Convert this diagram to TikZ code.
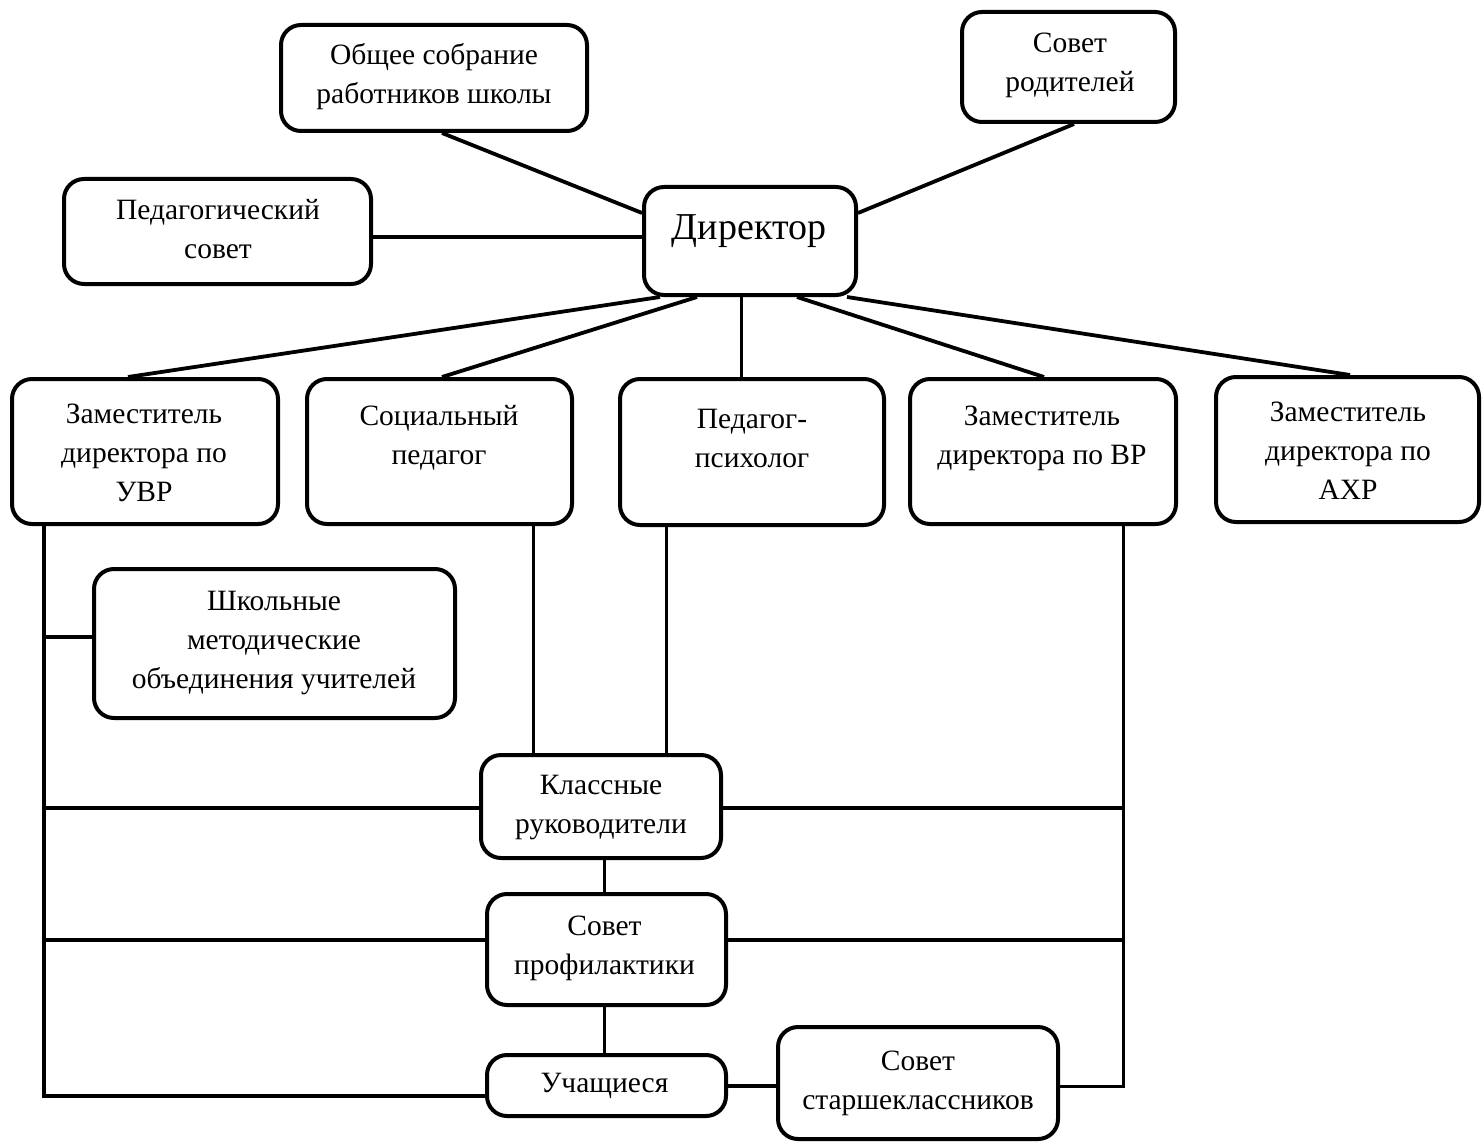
\documentclass[tikz,border=0pt]{standalone}
\usepackage{fontspec}
\setmainfont{Liberation Serif}
\usetikzlibrary{calc}
\begin{document}
\begin{tikzpicture}[x=1pt,y=-1pt,
  box/.style={draw=black, line width=4pt, rounded corners=20pt, inner sep=0pt},
  txt/.style={font=\fontsize{29.5}{39}\selectfont, align=center, inner sep=0pt},
  bigtxt/.style={font=\fontsize{38}{44}\selectfont, align=center, inner sep=0pt},
  conn/.style={draw=black, line width=3.8pt},
  thinconn/.style={draw=black, line width=3pt}]
\useasboundingbox[fill=white] (0,0) rectangle (1482,1142);

% boxes
\node[box, minimum width=306pt, minimum height=106pt] (obs) at (434,78) {};
\node[box, minimum width=213pt, minimum height=110pt] (rod) at (1068.5,67) {};
\node[box, minimum width=307pt, minimum height=105pt] (ped) at (217.5,231.5) {};
\node[box, minimum width=212pt, minimum height=108pt] (dir) at (750,241) {};
\node[box, minimum width=266pt, minimum height=145pt] (uvr) at (145,451.5) {};
\node[box, minimum width=265pt, minimum height=145pt] (soc) at (439.5,451.5) {};
\node[box, minimum width=264pt, minimum height=146pt] (psy) at (752,452) {};
\node[box, minimum width=266pt, minimum height=145pt] (vr) at (1043,451.5) {};
\node[box, minimum width=263pt, minimum height=145pt] (ahr) at (1347.5,449.5) {};
\node[box, minimum width=361pt, minimum height=149pt] (shk) at (274.5,643.5) {};
\node[box, minimum width=240pt, minimum height=103pt] (kls) at (601,806.5) {};
\node[box, minimum width=239pt, minimum height=111pt] (prof) at (606.5,949.5) {};
\node[box, minimum width=239pt, minimum height=61pt] (uch) at (606.5,1085.5) {};
\node[box, minimum width=280pt, minimum height=112pt] (star) at (918,1083) {};

% texts
\node[txt] (tobs) at (434,77) {Общее собрание\\работников школы};
\node[txt] (trod) at (1070,65.5) {Совет\\родителей};
\node[txt] (tped) at (218,229.5) {Педагогический\\совет};
\node[bigtxt] (tdir) at (749,231.5) {Директор};
\node[txt] (tuvr) at (144,452.5) {Заместитель\\директора по\\УВР};
\node[txt] (tsoc) at (439,437.5) {Социальный\\педагог};
\node[txt] (tpsy) at (752,438.5) {Педагог-\\психолог};
\node[txt] (tvr) at (1042,438) {Заместитель\\директора по ВР};
\node[txt] (tahr) at (1348,450.5) {Заместитель\\директора по\\АХР};
\node[txt] (tshk) at (274,643.5) {Школьные\\методические\\объединения учителей};
\node[txt] (tkls) at (601,808) {Классные\\руководители};
\node[txt] (tprof) at (604.5,948.5) {Совет\\профилактики};
\node[txt] (tuch) at (604.5,1085.5) {Учащиеся};
\node[txt] (tstar) at (918,1083) {Совет\\старшеклассников};

% anchor points
\coordinate (railL) at ([xshift=-101pt]uvr.south);
\coordinate (railR) at ([xshift=80pt]vr.south);
\coordinate (uchW) at ([yshift=-10.5pt]uch.west);
\coordinate (shkW) at ([yshift=6.5pt]shk.west);
\coordinate (klsW) at ([yshift=-1.5pt]kls.west);
\coordinate (klsE) at ([yshift=-1.5pt]kls.east);
\coordinate (profW) at ([yshift=9.5pt]prof.west);
\coordinate (profE) at ([yshift=9.5pt]prof.east);
\coordinate (starE) at ([yshift=-3pt]star.east);
\coordinate (uchE) at ([yshift=-0.5pt]uch.east);
\coordinate (pedE) at ([yshift=-5.5pt]ped.east);
\coordinate (dirP) at ([xshift=-8.5pt]dir.south);
\coordinate (socS) at ([xshift=93.5pt]soc.south);
\coordinate (psyS) at ([xshift=-85.5pt]psy.south);
\coordinate (klsS) at ([xshift=3pt]kls.south);
\coordinate (profS) at ([xshift=-2.5pt]prof.south);

% top connectors
\draw[conn] ([xshift=8pt]obs.south) -- ([yshift=28pt]dir.west);
\draw[conn] ([xshift=5.5pt]rod.south) -- ([yshift=28pt]dir.east);
\draw[conn] (pedE) -- (pedE -| dir.west);

% director fan-out
\draw[conn] ([xshift=-90pt]dir.south) -- ([xshift=-17pt]uvr.north);
\draw[conn] ([xshift=-53pt]dir.south) -- ([xshift=2.5pt]soc.north);
\draw[thinconn] (dirP) -- (dirP |- psy.north);
\draw[conn] ([xshift=47pt]dir.south) -- ([xshift=1pt]vr.north);
\draw[conn] ([xshift=97pt]dir.south) -- ([xshift=2.5pt]ahr.north);

% left rail
\draw[conn] (railL) -- (railL |- uchW) -- (uchW);
\draw[conn] (railL |- shkW) -- (shkW);
\draw[conn] (railL |- klsW) -- (klsW);
\draw[conn] (railL |- profW) -- (profW);

% right rail
\draw[thinconn] (railR) -- (railR |- starE) -- (starE);
\draw[conn] (klsE) -- (railR |- klsE);
\draw[conn] (profE) -- (railR |- profE);

% verticals to Классные руководители
\draw[thinconn] (socS) -- (socS |- kls.north);
\draw[thinconn] (psyS) -- (psyS |- kls.north);

% central column
\draw[thinconn] (klsS) -- (klsS |- prof.north);
\draw[thinconn] (profS) -- (profS |- uch.north);
\draw[conn] (uchE) -- (uchE -| star.west);
\end{tikzpicture}
\end{document}
